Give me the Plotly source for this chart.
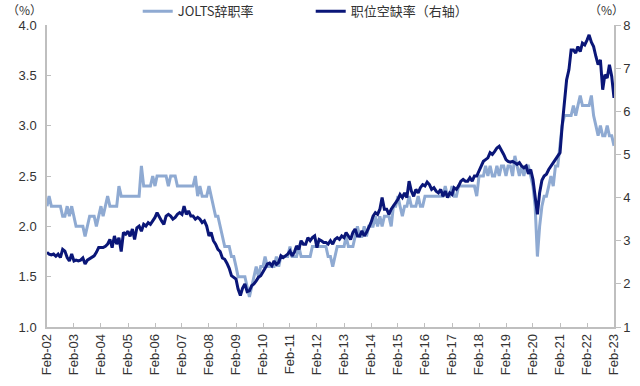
import pandas as pd
import plotly.graph_objects as go

# Monthly, Feb-2002 .. Feb-2023
months = pd.date_range("2002-02-01", "2023-02-01", freq="MS")

# JOLTS quits rate (left axis, %)
quits_rate = [
    2.2, 2.3, 2.2, 2.2, 2.2, 2.2, 2.2, 2.1, 2.1, 2.2, 2.1,            # 2002 Feb-Dec
    2.2, 2.1, 2.0, 2.0, 2.0, 2.0, 1.9, 2.0, 2.1, 2.1, 2.1, 2.0,       # 2003
    2.1, 2.2, 2.1, 2.2, 2.3, 2.2, 2.2, 2.2, 2.2, 2.4, 2.3, 2.3,       # 2004
    2.3, 2.3, 2.3, 2.3, 2.3, 2.3, 2.3, 2.6, 2.4, 2.4, 2.4, 2.4,       # 2005
    2.5, 2.4, 2.5, 2.5, 2.5, 2.5, 2.5, 2.4, 2.5, 2.5, 2.5, 2.4,       # 2006
    2.4, 2.4, 2.4, 2.4, 2.4, 2.4, 2.4, 2.5, 2.3, 2.4, 2.3, 2.3,       # 2007
    2.3, 2.4, 2.3, 2.2, 2.1, 2.1, 2.0, 1.9, 1.8, 1.8, 1.8, 1.7,       # 2008
    1.7, 1.6, 1.5, 1.5, 1.5, 1.5, 1.4, 1.3, 1.4, 1.5, 1.6, 1.5,       # 2009
    1.6, 1.6, 1.7, 1.6, 1.6, 1.6, 1.6, 1.7, 1.6, 1.7, 1.7, 1.7,       # 2010
    1.7, 1.8, 1.7, 1.7, 1.7, 1.8, 1.7, 1.7, 1.7, 1.7, 1.7, 1.8,       # 2011
    1.8, 1.8, 1.8, 1.8, 1.8, 1.8, 1.7, 1.7, 1.6, 1.7, 1.8, 1.8,       # 2012
    1.8, 1.8, 1.9, 1.8, 1.8, 1.8, 1.9, 2.0, 1.9, 1.9, 2.0, 1.9,       # 2013
    2.0, 2.0, 2.0, 2.1, 2.0, 2.1, 2.0, 2.1, 2.1, 2.1, 2.0, 2.2,       # 2014
    2.2, 2.3, 2.2, 2.1, 2.2, 2.2, 2.3, 2.2, 2.2, 2.2, 2.3, 2.2,       # 2015
    2.2, 2.3, 2.3, 2.3, 2.3, 2.3, 2.3, 2.3, 2.3, 2.3, 2.4, 2.3,       # 2016
    2.3, 2.4, 2.3, 2.3, 2.4, 2.4, 2.4, 2.4, 2.4, 2.4, 2.4, 2.4,       # 2017
    2.3, 2.5, 2.5, 2.5, 2.6, 2.5, 2.6, 2.5, 2.5, 2.6, 2.5, 2.6,       # 2018
    2.6, 2.5, 2.6, 2.6, 2.5, 2.7, 2.6, 2.5, 2.6, 2.5, 2.6, 2.6,       # 2019
    2.5, 2.4, 2.2, 1.7, 2.0, 2.2, 2.3, 2.3, 2.4, 2.5, 2.4, 2.6,       # 2020
    2.6, 2.8, 3.0, 3.1, 3.1, 3.1, 3.1, 3.2, 3.1, 3.2, 3.3, 3.2,       # 2021
    3.2, 3.2, 3.2, 3.3, 3.1, 3.0, 2.9, 3.0, 2.9, 2.9, 3.0, 2.9,       # 2022
    2.9, 2.8,                                                         # 2023 Jan-Feb
]

# Job openings rate (right axis, %)
openings_rate = [
    2.73, 2.69, 2.67, 2.69, 2.64, 2.69, 2.61, 2.80, 2.76, 2.61, 2.53,                 # 2002
    2.69, 2.53, 2.55, 2.53, 2.55, 2.60, 2.46, 2.55, 2.58, 2.62, 2.65, 2.73,           # 2003
    2.84, 2.84, 2.84, 2.87, 2.92, 3.03, 2.84, 3.11, 2.92, 3.07, 2.75, 3.19,           # 2004
    3.15, 3.22, 3.10, 3.27, 3.03, 3.30, 3.34, 3.22, 3.38, 3.34, 3.42, 3.38,           # 2005
    3.46, 3.54, 3.65, 3.54, 3.46, 3.38, 3.57, 3.61, 3.57, 3.50, 3.54, 3.61,           # 2006
    3.65, 3.61, 3.80, 3.61, 3.69, 3.57, 3.57, 3.50, 3.54, 3.50, 3.42, 3.46,           # 2007
    3.34, 3.11, 3.19, 3.00, 2.92, 2.80, 2.75, 2.60, 2.57, 2.48, 2.36, 2.19,           # 2008
    2.15, 2.11, 1.88, 1.73, 1.90, 2.00, 1.82, 1.84, 1.96, 2.00, 2.07, 2.15,           # 2009
    2.19, 2.30, 2.36, 2.46, 2.48, 2.42, 2.53, 2.45, 2.50, 2.65, 2.61, 2.65,           # 2010
    2.69, 2.76, 2.65, 2.73, 2.88, 2.80, 3.00, 2.92, 2.92, 3.07, 3.00, 3.07,           # 2011
    3.11, 2.84, 3.03, 3.00, 2.96, 2.96, 2.92, 3.00, 2.92, 3.03, 3.07, 3.03,           # 2012
    3.11, 3.07, 3.19, 3.11, 3.03, 3.19, 3.27, 3.11, 3.11, 3.23, 3.11, 3.19,           # 2013
    3.30, 3.42, 3.57, 3.65, 3.61, 3.73, 4.00, 3.73, 3.73, 3.61, 3.73, 3.80,           # 2014
    3.88, 3.96, 4.07, 4.00, 4.11, 4.00, 4.38, 4.15, 4.03, 4.19, 4.11, 4.23,           # 2015
    4.30, 4.27, 4.36, 4.30, 4.19, 4.23, 4.15, 4.11, 4.19, 4.03, 4.15, 4.00,           # 2016
    4.11, 4.07, 4.23, 4.19, 4.27, 4.38, 4.42, 4.38, 4.38, 4.46, 4.38, 4.50,           # 2017
    4.50, 4.61, 4.73, 4.84, 4.88, 4.92, 5.04, 5.00, 5.07, 5.15, 5.19, 5.11,           # 2018
    5.00, 4.88, 4.84, 4.82, 4.84, 4.81, 4.77, 4.81, 4.73, 4.69, 4.73, 4.55,           # 2019
    4.65, 4.42, 3.95, 3.61, 4.11, 4.40, 4.50, 4.54, 4.65, 4.73, 4.81, 4.88,           # 2020
    4.96, 5.04, 5.65, 6.30, 6.73, 6.96, 7.42, 7.42, 7.35, 7.50, 7.38, 7.58,           # 2021
    7.54, 7.65, 7.77, 7.60, 7.50, 7.27, 7.08, 7.19, 6.50, 6.85, 6.77, 7.08,           # 2022
    6.81, 6.31,                                                                       # 2023
]

tick_dates = pd.date_range("2002-02-01", "2023-02-01", freq="12MS")
tick_labels = [d.strftime("Feb-%y") for d in tick_dates]

series_names = ["JOLTS辞职率", "职位空缺率（右轴）"]
light = "#8FAAD2"
dark = "#0A1678"

fig = go.Figure()
fig.add_trace(go.Scatter(x=months, y=quits_rate, name=series_names[0], mode="lines",
                         line=dict(color=light, width=3), yaxis="y"))
fig.add_trace(go.Scatter(x=months, y=openings_rate, name=series_names[1], mode="lines",
                         line=dict(color=dark, width=3), yaxis="y2"))

tick_font = dict(family="Liberation Sans, Arial, sans-serif", size=13, color="#333333")
cjk = "Noto Sans CJK SC, sans-serif"

fig.update_layout(
    width=640, height=386,
    margin=dict(l=47, r=26, t=25, b=59, autoexpand=False),
    paper_bgcolor="white", plot_bgcolor="white",
    showlegend=True,
    legend=dict(orientation="h", x=0.16, xanchor="left", y=1.045, yanchor="middle",
                font=dict(family=cjk, size=13, color="#333333"),
                itemwidth=30, entrywidth=128, entrywidthmode="pixels",
                bgcolor="rgba(0,0,0,0)", tracegroupgap=0),
    xaxis=dict(
        type="date",
        range=[months[0], months[-1]],
        tickmode="array", tickvals=tick_dates, ticktext=tick_labels,
        tickangle=-90, tickfont=tick_font,
        ticks="inside", ticklen=4, tickcolor="#BFBFBF",
        showline=True, linecolor="#BFBFBF", linewidth=1.5,
        showgrid=False, zeroline=False,
    ),
    yaxis=dict(
        range=[1, 4], dtick=0.5, tick0=1, tickformat=".1f",
        tickfont=tick_font, ticks="inside", ticklen=4, tickcolor="#BFBFBF",
        showline=True, linecolor="#BFBFBF", linewidth=1.5,
        showgrid=False, zeroline=False, ticklabelstandoff=6,
    ),
    yaxis2=dict(
        range=[1, 8], dtick=1, tick0=1, overlaying="y", side="right",
        tickfont=tick_font, ticks="outside", ticklen=5, tickcolor="#BFBFBF",
        showline=True, linecolor="#BFBFBF", linewidth=1.5,
        showgrid=False, zeroline=False,
    ),
    annotations=[
        dict(text="（%）", xref="paper", yref="paper", x=-0.04, y=1.05,
             xanchor="center", yanchor="middle", showarrow=False,
             font=dict(family=cjk, size=12, color="#333333")),
        dict(text="（%）", xref="paper", yref="paper", x=0.987, y=1.05,
             xanchor="center", yanchor="middle", showarrow=False,
             font=dict(family=cjk, size=12, color="#333333")),
    ],
)

fig.write_html("out.html", config={"displayModeBar": False},
               post_script="document.body.style.margin='0px';")
